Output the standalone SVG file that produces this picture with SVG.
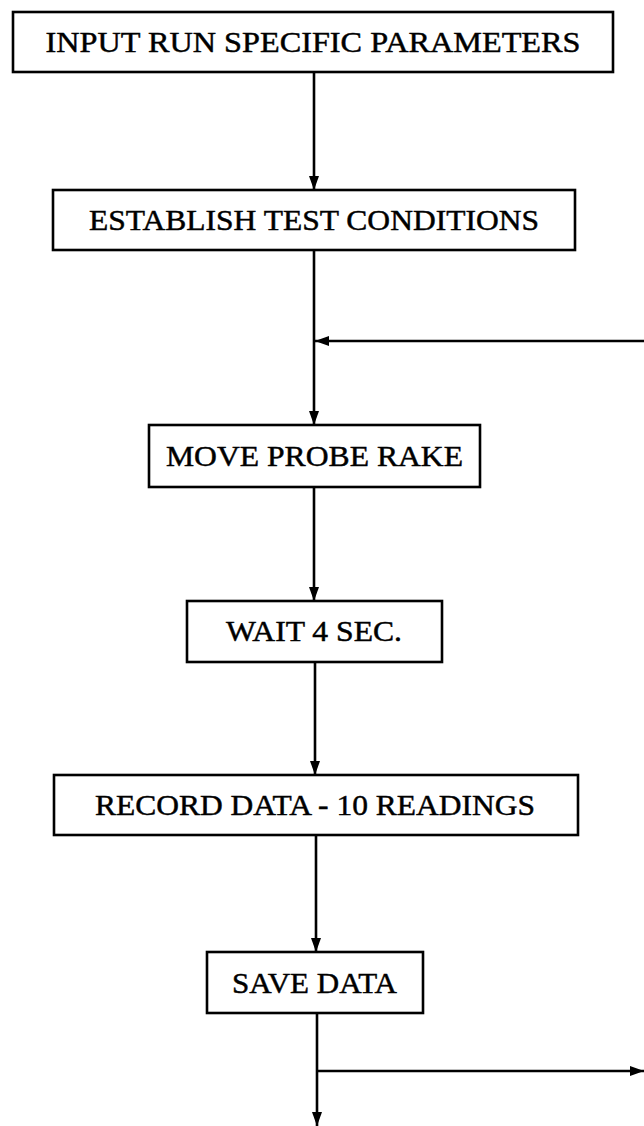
<svg xmlns="http://www.w3.org/2000/svg" width="644" height="1126" viewBox="0 0 644 1126">
<style>
.box{fill:#fff;stroke:#000;stroke-width:2.6}
.lbl{font-family:"Liberation Serif","DejaVu Serif",serif;font-size:29px;fill:#000;stroke:#000;stroke-width:0.45;text-anchor:middle}
.ln{fill:none;stroke:#000;stroke-width:2.6}
</style>
<defs>
<marker id="ah" viewBox="0 0 14 10" refX="14" refY="5" markerWidth="14" markerHeight="10" markerUnits="userSpaceOnUse" orient="auto">
<path d="M0,0 L14,5 L0,10 Z" fill="#000"/>
</marker>
</defs>
<g id="connectors">
<line class="ln" x1="314" y1="72" x2="314" y2="190" marker-end="url(#ah)"/>
<line class="ln" x1="314" y1="250" x2="314" y2="425" marker-end="url(#ah)"/>
<line class="ln" x1="644" y1="341" x2="315" y2="341" marker-end="url(#ah)"/>
<line class="ln" x1="314" y1="487" x2="314" y2="601" marker-end="url(#ah)"/>
<line class="ln" x1="315" y1="662" x2="315" y2="775" marker-end="url(#ah)"/>
<line class="ln" x1="316" y1="835" x2="316" y2="952" marker-end="url(#ah)"/>
<line class="ln" x1="317" y1="1013" x2="317" y2="1126" marker-end="url(#ah)"/>
<line class="ln" x1="317" y1="1071" x2="644" y2="1071" marker-end="url(#ah)"/>
</g>
<g id="n1"><rect class="box" x="13" y="12" width="600" height="60"/><text class="lbl" x="313" y="52" textLength="535" lengthAdjust="spacingAndGlyphs">INPUT RUN SPECIFIC PARAMETERS</text></g>
<g id="n2"><rect class="box" x="53" y="190" width="522" height="60"/><text class="lbl" x="314" y="230" textLength="450" lengthAdjust="spacingAndGlyphs">ESTABLISH TEST CONDITIONS</text></g>
<g id="n3"><rect class="box" x="149" y="425" width="331" height="62"/><text class="lbl" x="314.5" y="466" textLength="297" lengthAdjust="spacingAndGlyphs">MOVE PROBE RAKE</text></g>
<g id="n4"><rect class="box" x="187" y="601" width="255" height="61"/><text class="lbl" x="314" y="641" textLength="176" lengthAdjust="spacingAndGlyphs">WAIT 4 SEC.</text></g>
<g id="n5"><rect class="box" x="54" y="775" width="524" height="60"/><text class="lbl" x="315" y="815" textLength="440" lengthAdjust="spacingAndGlyphs">RECORD DATA - 10 READINGS</text></g>
<g id="n6"><rect class="box" x="207" y="952" width="216" height="61"/><text class="lbl" x="314.5" y="993" textLength="165" lengthAdjust="spacingAndGlyphs">SAVE DATA</text></g>
</svg>
